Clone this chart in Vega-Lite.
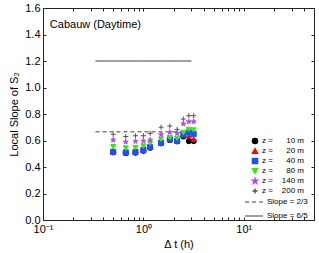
{
  "$schema": "https://vega.github.io/schema/vega-lite/v6.json",
  "width": 271,
  "height": 212,
  "autosize": {"type": "none"},
  "padding": {"left": 43, "top": 8, "right": 5, "bottom": 33},
  "background": "white",
  "config": {
    "font": "Liberation Sans",
    "view": {"stroke": "#222222", "strokeWidth": 1},
    "axis": {
      "domain": false,
      "grid": false,
      "tickColor": "#222222",
      "tickSize": -3,
      "labelFont": "Liberation Sans",
      "labelFontSize": 11,
      "labelColor": "black",
      "titleFont": "Liberation Sans",
      "titleFontSize": 11,
      "titleFontWeight": "normal",
      "titleColor": "black"
    },
    "legend": {
      "labelFont": "Liberation Sans",
      "labelFontSize": 8,
      "labelColor": "black"
    }
  },
  "datasets": {
    "pts": [
      {"t": 0.5, "z": 10, "s": 0.51}, {"t": 0.667, "z": 10, "s": 0.505}, {"t": 0.833, "z": 10, "s": 0.508}, {"t": 1.0, "z": 10, "s": 0.522}, {"t": 1.167, "z": 10, "s": 0.545}, {"t": 1.5, "z": 10, "s": 0.578}, {"t": 1.833, "z": 10, "s": 0.603}, {"t": 2.167, "z": 10, "s": 0.593}, {"t": 2.5, "z": 10, "s": 0.63}, {"t": 2.833, "z": 10, "s": 0.595}, {"t": 3.167, "z": 10, "s": 0.595},
      {"t": 0.5, "z": 20, "s": 0.512}, {"t": 0.667, "z": 20, "s": 0.507}, {"t": 0.833, "z": 20, "s": 0.51}, {"t": 1.0, "z": 20, "s": 0.525}, {"t": 1.167, "z": 20, "s": 0.548}, {"t": 1.5, "z": 20, "s": 0.58}, {"t": 1.833, "z": 20, "s": 0.606}, {"t": 2.167, "z": 20, "s": 0.595}, {"t": 2.5, "z": 20, "s": 0.64}, {"t": 2.833, "z": 20, "s": 0.635}, {"t": 3.167, "z": 20, "s": 0.61},
      {"t": 0.5, "z": 40, "s": 0.515}, {"t": 0.667, "z": 40, "s": 0.51}, {"t": 0.833, "z": 40, "s": 0.513}, {"t": 1.0, "z": 40, "s": 0.528}, {"t": 1.167, "z": 40, "s": 0.551}, {"t": 1.5, "z": 40, "s": 0.583}, {"t": 1.833, "z": 40, "s": 0.609}, {"t": 2.167, "z": 40, "s": 0.598}, {"t": 2.5, "z": 40, "s": 0.647}, {"t": 2.833, "z": 40, "s": 0.662}, {"t": 3.167, "z": 40, "s": 0.649},
      {"t": 0.5, "z": 80, "s": 0.553}, {"t": 0.667, "z": 80, "s": 0.543}, {"t": 0.833, "z": 80, "s": 0.546}, {"t": 1.0, "z": 80, "s": 0.558}, {"t": 1.167, "z": 80, "s": 0.579}, {"t": 1.5, "z": 80, "s": 0.609}, {"t": 1.833, "z": 80, "s": 0.621}, {"t": 2.167, "z": 80, "s": 0.616}, {"t": 2.5, "z": 80, "s": 0.659}, {"t": 2.833, "z": 80, "s": 0.684}, {"t": 3.167, "z": 80, "s": 0.679},
      {"t": 0.5, "z": 140, "s": 0.604}, {"t": 0.667, "z": 140, "s": 0.589}, {"t": 0.833, "z": 140, "s": 0.594}, {"t": 1.0, "z": 140, "s": 0.596}, {"t": 1.167, "z": 140, "s": 0.604}, {"t": 1.5, "z": 140, "s": 0.644}, {"t": 1.833, "z": 140, "s": 0.662}, {"t": 2.167, "z": 140, "s": 0.654}, {"t": 2.5, "z": 140, "s": 0.725}, {"t": 2.833, "z": 140, "s": 0.742}, {"t": 3.167, "z": 140, "s": 0.742},
      {"t": 0.5, "z": 200, "s": 0.647}, {"t": 0.667, "z": 200, "s": 0.63}, {"t": 0.833, "z": 200, "s": 0.636}, {"t": 1.0, "z": 200, "s": 0.636}, {"t": 1.167, "z": 200, "s": 0.654}, {"t": 1.5, "z": 200, "s": 0.7}, {"t": 1.833, "z": 200, "s": 0.709}, {"t": 2.167, "z": 200, "s": 0.684}, {"t": 2.5, "z": 200, "s": 0.762}, {"t": 2.833, "z": 200, "s": 0.787}, {"t": 3.167, "z": 200, "s": 0.787}
    ],
    "slopes": [
      {"slope": "2/3", "x1": 0.333, "x2": 3.0, "y": 0.6667},
      {"slope": "6/5", "x1": 0.333, "x2": 3.0, "y": 1.2}
    ],
    "label": [
      {"text": "Cabauw (Daytime)", "x": 0.117, "y": 1.47}
    ]
  },
  "resolve": {"axis": {"x": "independent", "y": "independent"}},
  "layer": [
    {
      "data": {"name": "slopes"},
      "mark": {"type": "rule", "stroke": "#808080", "strokeWidth": 1.5},
      "encoding": {
        "x": {
          "field": "x1", "type": "quantitative",
          "scale": {"type": "log", "domain": [0.1, 50], "nice": false},
          "axis": {
            "orient": "bottom",
            "title": "Δ t (h)",
            "titlePadding": 4,
            "labelPadding": 6,
            "values": [0.1, 0.2, 0.3, 0.4, 0.5, 0.6, 0.7, 0.8, 0.9, 1, 2, 3, 4, 5, 6, 7, 8, 9, 10, 20, 30, 40, 50],
            "labelExpr": "datum.value == 0.1 ? '10⁻¹' : datum.value == 1 ? '10⁰' : datum.value == 10 ? '10¹' : ''",
            "labelOverlap": false,
            "labelFlush": false
          }
        },
        "x2": {"field": "x2"},
        "y": {
          "field": "y", "type": "quantitative",
          "scale": {"domain": [0, 1.6], "nice": false},
          "axis": {
            "orient": "left",
            "title": "Local Slope of S₂",
            "titlePadding": 5,
            "labelPadding": 6,
            "values": [0, 0.2, 0.4, 0.6, 0.8, 1.0, 1.2, 1.4, 1.6],
            "format": ".1f",
            "labelFlush": false
          }
        },
        "strokeDash": {
          "field": "slope", "type": "nominal",
          "scale": {"domain": ["2/3", "6/5"], "range": [[4, 3], [1, 0]]},
          "legend": {
            "title": null,
            "orient": "none",
            "legendX": 201,
            "legendY": 184,
            "padding": 0,
            "symbolType": "stroke",
            "symbolSize": 320,
            "symbolStrokeColor": "#808080",
            "symbolStrokeWidth": 1.5,
            "rowPadding": 0,
            "labelOffset": 3,
            "labelExpr": "'Slope = ' + datum.value"
          }
        }
      }
    },
    {
      "data": {"name": "pts"},
      "mark": {"type": "point", "size": 26, "strokeWidth": 1, "opacity": 1, "fillOpacity": 1, "strokeOpacity": 1},
      "encoding": {
        "x": {
          "field": "t", "type": "quantitative",
          "scale": {"type": "log", "domain": [0.1, 50], "nice": false},
          "axis": {
            "orient": "top",
            "title": null,
            "labels": false,
            "values": [0.1, 0.2, 0.3, 0.4, 0.5, 0.6, 0.7, 0.8, 0.9, 1, 2, 3, 4, 5, 6, 7, 8, 9, 10, 20, 30, 40, 50]
          }
        },
        "y": {
          "field": "s", "type": "quantitative",
          "scale": {"domain": [0, 1.6], "nice": false},
          "axis": {
            "orient": "right",
            "title": null,
            "labels": false,
            "values": [0, 0.2, 0.4, 0.6, 0.8, 1.0, 1.2, 1.4, 1.6]
          }
        },
        "fill": {
          "field": "z", "type": "ordinal",
          "scale": {"domain": [10, 20, 40, 80, 140, 200], "range": ["#000000", "#ff0000", "#1f4fff", "#33ee00", "#bb44ff", "#555555"]},
          "legend": {"title": null, "orient": "none", "legendX": 208, "legendY": 129, "padding": 0, "rowPadding": -2.4, "labelOffset": 3, "symbolSize": 26,
            "labelExpr": "'z = ' + (datum.value < 100 ? '\u00a0\u00a0\u00a0\u00a0\u00a0' : '\u00a0\u00a0\u00a0') + datum.value + ' m'"}
        },
        "stroke": {
          "field": "z", "type": "ordinal",
          "scale": {"domain": [10, 20, 40, 80, 140, 200], "range": ["#000000", "#ff0000", "#1f4fff", "#33ee00", "#bb44ff", "#555555"]},
          "legend": {"title": null, "orient": "none", "legendX": 208, "legendY": 129, "padding": 0, "rowPadding": -2.4, "labelOffset": 3, "symbolSize": 26,
            "labelExpr": "'z = ' + (datum.value < 100 ? '\u00a0\u00a0\u00a0\u00a0\u00a0' : '\u00a0\u00a0\u00a0') + datum.value + ' m'"}
        },
        "shape": {
          "field": "z", "type": "ordinal",
          "scale": {"domain": [10, 20, 40, 80, 140, 200], "range": ["circle", "triangle-up", "square", "triangle-down", "M0,-1L0.235,-0.324L0.951,-0.309L0.38,0.124L0.588,0.809L0,0.4L-0.588,0.809L-0.38,0.124L-0.951,-0.309L-0.235,-0.324Z", "M-1,0L1,0M0,-1L0,1"]},
          "legend": {"title": null, "orient": "none", "legendX": 208, "legendY": 129, "padding": 0, "rowPadding": -2.4, "labelOffset": 3, "symbolSize": 26,
            "labelExpr": "'z = ' + (datum.value < 100 ? '\u00a0\u00a0\u00a0\u00a0\u00a0' : '\u00a0\u00a0\u00a0') + datum.value + ' m'"}
        }
      }
    },
    {
      "data": {"name": "label"},
      "mark": {"type": "text", "align": "left", "baseline": "middle", "fontSize": 11, "font": "Liberation Sans", "color": "black"},
      "encoding": {
        "x": {"field": "x", "type": "quantitative", "scale": {"type": "log", "domain": [0.1, 50], "nice": false}, "axis": null},
        "y": {"field": "y", "type": "quantitative", "scale": {"domain": [0, 1.6], "nice": false}, "axis": null},
        "text": {"field": "text"}
      }
    }
  ]
}
